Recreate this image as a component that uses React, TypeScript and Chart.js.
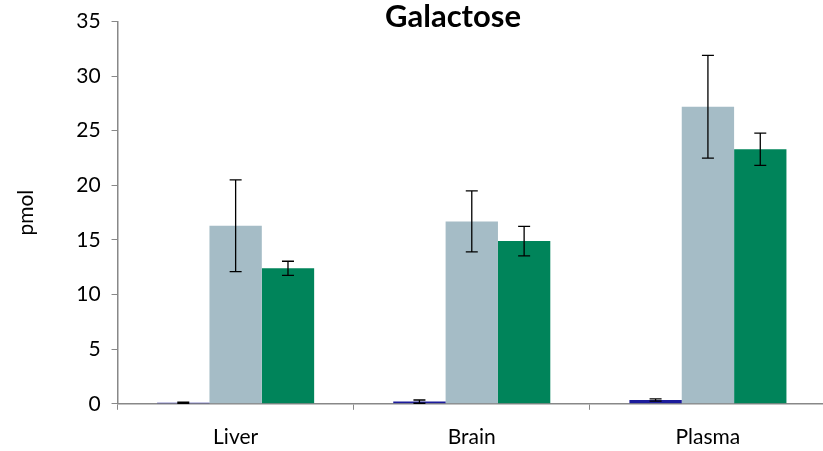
import React, { useEffect, useRef } from "react";
import { Chart, registerables } from "chart.js";

Chart.register(...registerables);

const categories = ["Liver", "Brain", "Plasma"];
const seriesNames = ["Control", "Treatment A", "Treatment B"];
const seriesColors = ["#1c1c9c", "#a5bcc6", "#00845a"];
const controlValues = [0.1, 0.2, 0.35];
const controlErrors = [0.05, 0.15, 0.1];
const treatmentAValues = [16.3, 16.7, 27.2];
const treatmentAErrors = [4.2, 2.8, 4.7];
const treatmentBValues = [12.4, 14.9, 23.3];
const treatmentBErrors = [0.65, 1.35, 1.48];
const yTicks = [0, 5, 10, 15, 20, 25, 30, 35];

const FONT = "Lato, 'Open Sans', sans-serif";

const errorBarPlugin = {
  id: "errorBars",
  afterDatasetsDraw(chart: any) {
    const ctx = chart.ctx;
    const yScale = chart.scales.y;
    ctx.save();
    ctx.strokeStyle = "#000";
    ctx.lineWidth = 1.3;
    chart.data.datasets.forEach((ds: any, i: number) => {
      const meta = chart.getDatasetMeta(i);
      meta.data.forEach((bar: any, j: number) => {
        const v = ds.data[j];
        const e = ds.errors[j];
        const x = bar.x;
        const yTop = yScale.getPixelForValue(v + e);
        const yBot = yScale.getPixelForValue(v - e);
        const cap = 6;
        ctx.beginPath();
        ctx.moveTo(x, yTop);
        ctx.lineTo(x, yBot);
        ctx.moveTo(x - cap, yTop);
        ctx.lineTo(x + cap, yTop);
        ctx.moveTo(x - cap, yBot);
        ctx.lineTo(x + cap, yBot);
        ctx.stroke();
      });
    });
    ctx.restore();
  },
};

const titlePlugin = {
  id: "chartHeading",
  afterDraw(chart: any) {
    const ctx = chart.ctx;
    ctx.save();
    ctx.font = `bold 31px ${FONT}`;
    ctx.fillStyle = "#000";
    ctx.textAlign = "center";
    ctx.textBaseline = "alphabetic";
    ctx.fillText("Galactose", 453, 27);
    ctx.restore();
  },
};

export default function App() {
  const ref = useRef<HTMLCanvasElement>(null);

  useEffect(() => {
    document.body.style.margin = "0";
    const chart = new Chart(ref.current!, {
      type: "bar",
      data: {
        labels: categories,
        datasets: [
          { label: seriesNames[0], data: controlValues, errors: controlErrors, backgroundColor: seriesColors[0] },
          { label: seriesNames[1], data: treatmentAValues, errors: treatmentAErrors, backgroundColor: seriesColors[1] },
          { label: seriesNames[2], data: treatmentBValues, errors: treatmentBErrors, backgroundColor: seriesColors[2] },
        ] as any,
      },
      options: {
        animation: false,
        responsive: false,
        layout: { padding: { top: 4, right: 4, left: 14, bottom: -14 } },
        datasets: { bar: { categoryPercentage: 0.665, barPercentage: 1.0 } },
        plugins: {
          legend: { display: false },
          title: { display: false },
          tooltip: { enabled: false },
        },
        scales: {
          x: {
            grid: {
              offset: true,
              drawOnChartArea: false,
              drawTicks: true,
              tickLength: 6,
              color: "#888",
            },
            border: { color: "#888", width: 1.5 },
            ticks: { color: "#000", font: { family: FONT, size: 21 }, padding: 15 },
          },
          y: {
            min: 0,
            max: 35,
            afterBuildTicks(scale: any) {
              scale.ticks = yTicks.map((v) => ({ value: v }));
            },
            grid: {
              drawOnChartArea: false,
              drawTicks: true,
              tickLength: 6,
              color: "#888",
            },
            border: { color: "#888", width: 1.5 },
            ticks: { color: "#000", font: { family: FONT, size: 21, lineHeight: 1 }, padding: 11 },
            title: {
              display: true,
              text: "pmol",
              color: "#000",
              font: { family: FONT, size: 21 },
              padding: { top: 0, bottom: 26 },
            },
          },
        },
      },
      plugins: [errorBarPlugin, titlePlugin],
    });
    return () => chart.destroy();
  }, []);

  return (
    <div style={{ width: 823, height: 451, overflow: "hidden", position: "relative" }}>
      <canvas ref={ref} width={830} height={451} style={{ display: "block" }} />
    </div>
  );
}
